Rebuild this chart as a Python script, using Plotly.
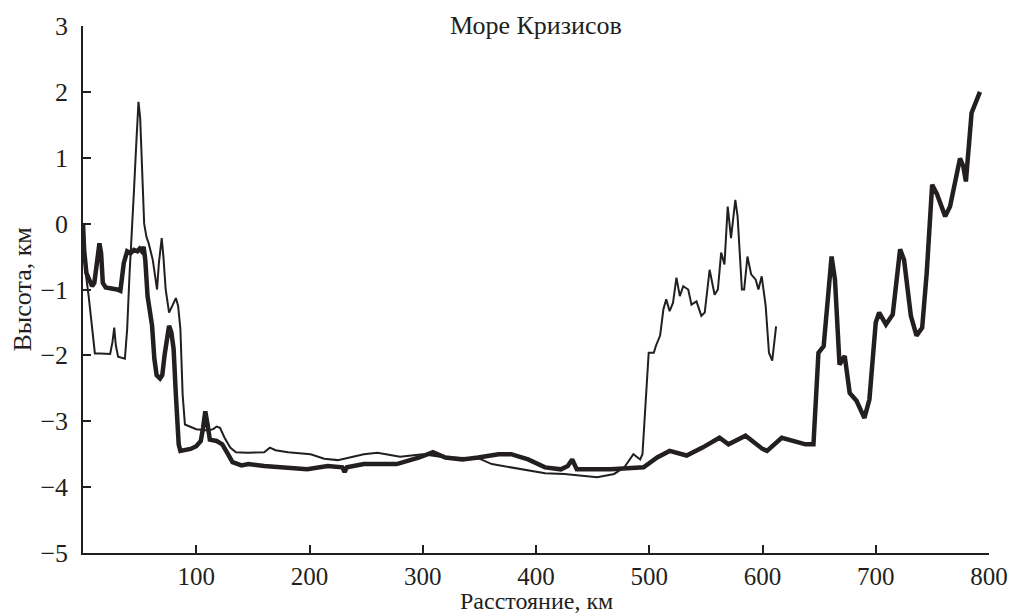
import plotly.graph_objects as go

# Thick profile (km, height km)
thick_km = [0, 1, 3, 5, 8, 10, 12.5, 14.5, 16, 17.5, 20, 25, 30, 33, 36, 39, 42, 45, 48, 50, 52, 53.5, 55, 57, 59, 61,
            63, 65, 68, 70, 72, 74, 76, 78, 80, 82, 84.5, 86, 95, 100, 104, 106, 108, 110, 112, 118, 123, 128, 132,
            140, 146, 160, 175, 198, 216, 229, 231, 233, 248, 277, 297, 309, 320, 335, 349, 367, 378, 393, 408, 422,
            428, 432, 436, 466, 495, 507, 518, 533, 547, 562, 570, 585, 600, 604, 617, 626, 638, 645, 649.4, 654,
            657, 661, 664, 668, 672.6, 677, 683, 690, 694.4, 700, 703, 709, 715, 721.5, 725, 731, 736, 741, 745,
            749.8, 754, 761.3, 765.6, 774.4, 777.3, 779.6, 784.6, 789, 792]
thick_h = [0, -0.4, -0.75, -0.85, -0.95, -0.9, -0.55, -0.3, -0.45, -0.9, -0.97, -0.98, -1.0, -1.02, -0.6, -0.42,
           -0.45, -0.4, -0.42, -0.38, -0.42, -0.35, -0.55, -1.1, -1.35, -1.55, -2.05, -2.3, -2.35, -2.3, -2.0, -1.75,
           -1.55, -1.65, -1.9, -2.6, -3.35, -3.45, -3.42, -3.38, -3.3, -3.1, -2.85, -3.05, -3.28, -3.3, -3.35, -3.5,
           -3.62, -3.67, -3.65, -3.68, -3.7, -3.73, -3.68, -3.7, -3.77, -3.7, -3.65, -3.65, -3.55, -3.47, -3.55,
           -3.58, -3.55, -3.5, -3.5, -3.58, -3.7, -3.73, -3.68, -3.58, -3.73, -3.73, -3.7, -3.55, -3.45, -3.52,
           -3.4, -3.25, -3.35, -3.22, -3.42, -3.45, -3.25, -3.3, -3.35, -3.35, -1.96, -1.86, -1.25, -0.5, -0.85,
           -2.14, -2.01, -2.57, -2.69, -2.95, -2.67, -1.5, -1.35, -1.53, -1.38, -0.39, -0.55, -1.4, -1.7, -1.58,
           -0.75, 0.59, 0.45, 0.11, 0.26, 0.99, 0.87, 0.64, 1.68, 1.88, 2.0]

# Thin profile (km, height km)
thin_km = [0, 2, 5, 8, 10.5, 15, 24, 26, 27.6, 29, 31, 37, 39, 41, 43, 45, 47, 49, 50.5, 52, 54, 56, 58, 61.6, 65.4,
           67, 69.5, 71, 73, 76, 79, 82, 84, 86, 88, 90, 100, 110, 115, 118, 121, 125, 130, 135, 145, 160, 165,
           170, 181, 201, 213, 225, 248, 260, 280, 300, 320, 349, 361, 387, 408, 425, 454, 469, 478, 486, 490, 492,
           494, 496, 499.5, 504, 506, 509.6, 512.5, 515, 518, 521, 524, 527, 530, 534.4, 537.3, 541.7, 546, 549,
           553.3, 557.7, 560.6, 563.5, 566.4, 569.3, 572.2, 576, 578, 581.8, 583.8, 586.7, 590, 594, 596.4, 599.3,
           602.8, 605.7, 608.6, 612]
thin_h = [-0.2, -0.7, -1.1, -1.6, -1.97, -1.97, -1.98, -1.8, -1.58, -1.85, -2.02, -2.05, -1.6, -0.8, -0.2, 0.5, 1.2,
          1.85, 1.6, 0.8, 0.0, -0.2, -0.3, -0.55, -1.0, -0.6, -0.22, -0.5, -1.0, -1.35, -1.25, -1.13, -1.25, -1.6,
          -2.6, -3.05, -3.12, -3.14, -3.12, -3.08, -3.1, -3.25, -3.4, -3.47, -3.48, -3.47, -3.4, -3.44, -3.47,
          -3.5, -3.57, -3.59, -3.5, -3.48, -3.54, -3.5, -3.55, -3.56, -3.65, -3.73, -3.79, -3.8, -3.85, -3.8,
          -3.7, -3.5, -3.55, -3.58, -3.5, -2.9, -1.96, -1.96, -1.85, -1.7, -1.3, -1.15, -1.33, -1.2, -0.82, -1.1,
          -0.95, -1.0, -1.23, -1.18, -1.4, -1.35, -0.7, -1.08, -1.0, -0.44, -0.62, 0.26, -0.22, 0.36, 0.11, -1.0,
          -1.0, -0.5, -0.77, -0.85, -1.0, -0.8, -1.25, -1.96, -2.08, -1.56]

x_ticks = [100, 200, 300, 400, 500, 600, 700, 800]
y_ticks = [-5, -4, -3, -2, -1, 0, 1, 2, 3]

title_text = "Море Кризисов"
x_title = "Расстояние, км"
y_title = "Высота, км"

ink = "#231f20"
font_family = "Liberation Serif"
fs = 26

fig = go.Figure()
fig.add_trace(go.Scatter(x=thin_km, y=thin_h, mode="lines",
                         line=dict(color=ink, width=2), showlegend=False))
fig.add_trace(go.Scatter(x=thick_km, y=thick_h, mode="lines",
                         line=dict(color=ink, width=4.5), showlegend=False))

fig.update_layout(
    width=1020, height=616,
    margin=dict(l=83, r=21, t=25, b=63),
    paper_bgcolor="white", plot_bgcolor="white",
    font=dict(family=font_family, size=fs, color=ink),
    showlegend=False,
    annotations=[
        dict(text=title_text, x=0.5, y=1, xref="paper", yref="paper",
             xanchor="center", yanchor="middle", showarrow=False, yshift=1,
             font=dict(family=font_family, size=fs, color=ink)),
        dict(text=x_title, x=0.5, y=0, xref="paper", yref="paper",
             xanchor="center", yanchor="bottom", yshift=-63, showarrow=False,
             font=dict(family=font_family, size=24, color=ink)),
        dict(text=y_title, x=0, y=0.5, xref="paper", yref="paper",
             xanchor="center", yanchor="middle", xshift=-61, textangle=-90,
             showarrow=False, font=dict(family=font_family, size=fs, color=ink)),
    ],
)
fig.update_xaxes(range=[0, 800], tickvals=x_ticks, ticks="inside", ticklen=8,
                 tickwidth=1.5, tickcolor=ink, showline=True, linecolor=ink,
                 linewidth=1.5, showgrid=False, zeroline=False,
                 ticklabelstandoff=0, tickfont=dict(family=font_family, size=25, color=ink))
fig.update_yaxes(range=[-5, 3], tickvals=y_ticks, ticks="inside", ticklen=8,
                 tickwidth=1.5, tickcolor=ink, showline=True, linecolor=ink,
                 linewidth=1.5, showgrid=False, zeroline=False,
                 ticklabelstandoff=8, tickfont=dict(family=font_family, size=fs, color=ink))

fig.write_html("out.html")
